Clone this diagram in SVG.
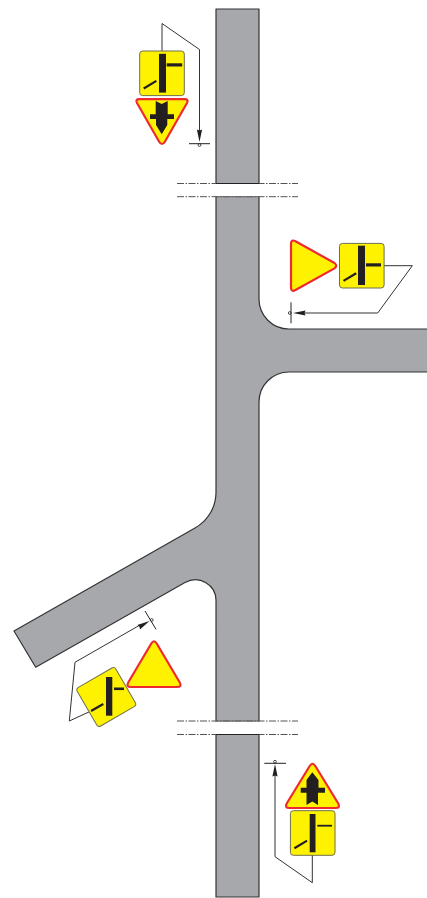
<svg xmlns="http://www.w3.org/2000/svg" width="427" height="898" viewBox="0 0 427 898">
<style>
.road{fill:#a7a8ac;stroke:#333;stroke-width:1.2;stroke-linejoin:round}
.gap{fill:#fff;stroke:none}
.cut{fill:none;stroke:#555;stroke-width:1;stroke-dasharray:7 1.5 1.5 1.5}
.cutd{stroke:#222;stroke-width:1;fill:none}
.cutl{stroke:#666;stroke-width:1;fill:none}
.lead{fill:none;stroke:#333;stroke-width:1;stroke-linejoin:round}
.tick{stroke:#222;stroke-width:1}
.sq{fill:#fff200;stroke:#6e6e50;stroke-width:1;stroke-linejoin:round}
.tri{fill:#fff200;stroke:#ee2a2e;stroke-width:2.2;stroke-linejoin:round}
.blk{fill:#231f20}
.bl{stroke:#231f20;fill:none;stroke-width:2.2}
.dot{fill:none;stroke:#222;stroke-width:.8}
</style>
<defs>
<rect id="box" class="sq" x="-22.300" y="-22.300" width="44.600" height="44.600" rx="3"/>
<path id="diag" class="bl" d="M-18.300 15.200L-5.600 7.600"/>
<path id="arrow" class="blk" d="M0 0L-2.600 12.500L0 11.500L2.600 12.500Z"/>
</defs>
<g id="road">
<path class="road" d="M216 9H259V299A30 30 0 0 0 289 329H429V372H289A30 30 0 0 0 259 402V897H216V601A20.600 20.600 0 0 0 185 582.600L35.700 667.300L14 631L195 528A41 41 0 0 0 216 493Z"/>
<rect class="gap" x="170" y="184" width="135" height="12.500"/>
<rect class="gap" x="170" y="721.500" width="135" height="12.500"/>
</g>
<g id="breaks">
<path class="cut" d="M177 183.500H298"/>
<path class="cut" d="M177 196.700H298"/>
<path class="cut" d="M177 721H298"/>
<path class="cut" d="M177 734.500H298"/>
<path class="cutd" d="M216 183.500H259M216 734.500H259"/>
<path class="cutl" d="M216 196.700H259M216 721H259"/>
</g>
<g id="connectors">
<path class="lead" d="M162 51V23.500L199.500 49.500V131"/>
<use href="#arrow" transform="translate(199.500 142) rotate(180)"/>
<path class="tick" d="M189 143.700H210"/>
<circle class="dot" cx="199.500" cy="145" r="1.400"/>
<path class="lead" d="M384 265.700H412.300L377.700 313H304"/>
<use href="#arrow" transform="translate(293 313) rotate(-90)"/>
<path class="tick" d="M291 302.300V323.300"/>
<circle class="dot" cx="289.800" cy="313" r="1.400"/>
<path class="lead" d="M91 711L69.300 721L75 662.300L140 625"/>
<use href="#arrow" transform="translate(149.500 621) rotate(60)"/>
<path class="tick" d="M145 611L156 629.300"/>
<circle class="dot" cx="151.700" cy="620" r="1.400"/>
<path class="lead" d="M275 775V856.700L312.300 882.700V855"/>
<use href="#arrow" transform="translate(275 764)"/>
<path class="tick" d="M264.300 763.300H286"/>
<circle class="dot" cx="275" cy="761.700" r="1.400"/>
</g>
<g id="sign-top">
<g transform="translate(162 73.300)">
<use href="#box"/><rect class="blk" x="-3" y="-19.500" width="7" height="38.800"/><use href="#diag"/>
<rect class="blk" x="4.700" y="-10" width="15.500" height="3.200"/>
</g>
<path class="tri" d="M139.500 99.200H184.500Q189 99.200 187 103L165 141.500Q162 146.500 159 141.500L137 103Q135 99.200 139.500 99.200Z"/>
<path class="blk" d="M155.700 101L161.700 104L167.700 101V114.300H174V119H167.300V125L161.700 134.300L156 125V119H150V114.300H155.700Z"/>
</g>
<g id="sign-right">
<g transform="translate(361.800 265.700)">
<use href="#box"/><rect class="blk" x="-3.800" y="-20" width="7" height="39.300"/><use href="#diag"/>
<rect class="blk" x="4.200" y="-2.400" width="15" height="3.200"/>
</g>
<path class="tri" d="M291 244Q291 238.800 295.500 241.300L334.500 263Q338 265.700 334.500 268.400L295.500 290Q291 292.500 291 287.500Z"/>
</g>
<g id="sign-left">
<rect class="sq" x="-22.300" y="-22.300" width="44.600" height="44.600" rx="3" transform="translate(106.300 697) rotate(-30)"/>
<rect class="blk" x="106" y="677" width="6.300" height="38.700"/>
<rect class="blk" x="114" y="687.500" width="10" height="2.600"/>
<path class="bl" d="M91 711L103.300 704"/>
<path class="tri" d="M151.300 643.500Q154 639 156.700 643.500L179.500 682Q182.500 687 177 687H131Q125.500 687 128.500 682Z"/>
</g>
<g id="sign-bottom">
<g transform="translate(312.700 833)">
<use href="#box"/><rect class="blk" x="-3" y="-19" width="5.800" height="38.300"/><use href="#diag"/>
<rect class="blk" x="4.600" y="-8.200" width="14.700" height="1.800"/>
</g>
<path class="tri" d="M309.700 766Q312.500 761.500 315.300 766L338 803Q341 808 335.500 808H289.500Q284 808 287 803Z"/>
<path class="blk" d="M312.300 772.300L318.500 780V787.700H325V792.700H318V805L312.300 801.500L306.500 805V792.700H300.700V787.700H306.500V780Z"/>
</g>
</svg>
